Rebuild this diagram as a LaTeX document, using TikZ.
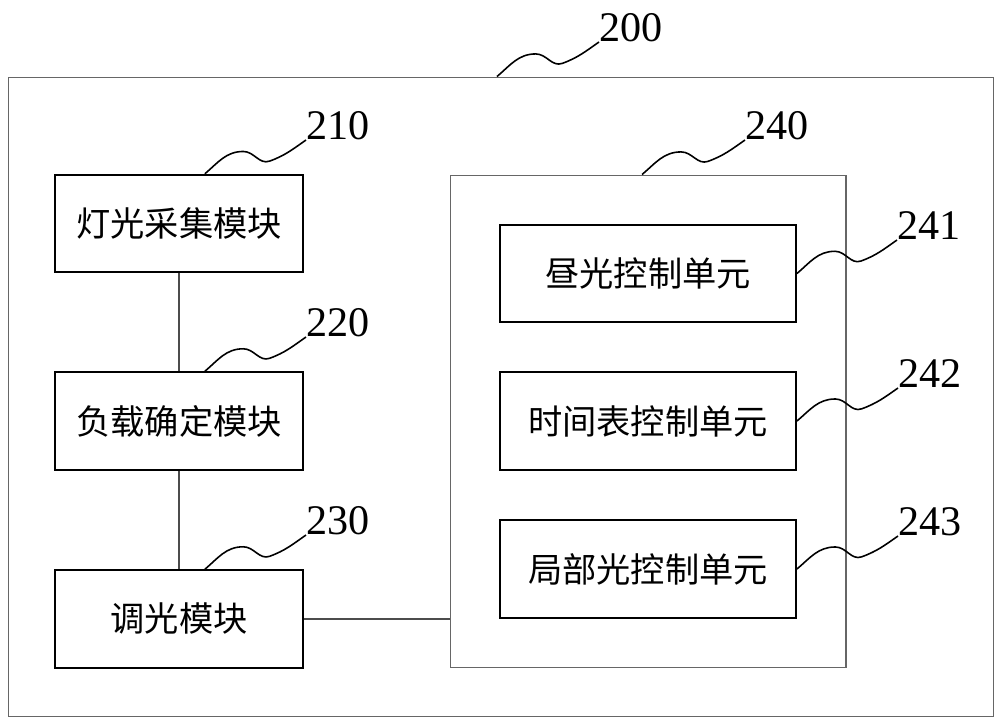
\documentclass[tikz,border=0pt]{standalone}
\usepackage{fontspec}
\setmainfont{Liberation Serif}
\newfontfamily\cjk{Noto Sans CJK SC}
\usetikzlibrary{positioning,calc}
% wavy leader from a part to its reference number
\newcommand{\wave}[2]{%
  \draw[Leader] (#1) to[out=40,in=180] ($(#1)!0.38!(#2)+(0pt,5.4pt)$)
    to[out=0,in=200] ($(#1)!0.64!(#2)-(0pt,5.1pt)$)
    to[out=20,in=215] (#2);
}

\begin{document}
\begin{tikzpicture}
  [
    x=0.02cm, y=-0.02cm,
    Module/.style={rectangle, draw=black, line width=1.1pt, minimum width=4.96cm, minimum height=1.95cm, font=\cjk\fontsize{19.5}{22}\selectfont},
    Unit/.style={Module, minimum width=5.92cm},
    Frame/.style={rectangle, draw=black!60, line width=0.6pt},
    Num/.style={anchor=south west, inner sep=0pt, font=\fontsize{24}{28}\selectfont},
    Link/.style={draw=black!70, line width=0.6pt},
    Leader/.style={draw=black, line width=0.9pt}
  ]
  \useasboundingbox (0,0) rectangle (1000,727);
  % Frames
  \node[Frame, minimum width=19.72cm, minimum height=12.8cm] (s200) at (501,397) {};
  \node[Frame, minimum width=7.92cm, minimum height=9.86cm] (s240) at (648,421.5) {};
  % Modules
  \node[Module] (b210) at (179,223.5) {灯光采集模块};
  \node[Module] (b220) at (179,421) {负载确定模块};
  \node[Module] (b230) at (179,619) {调光模块};
  % Units
  \node[Unit] (b241) at (648,273.5) {昼光控制单元};
  \node[Unit] (b242) at (648,421) {时间表控制单元};
  \node[Unit] (b243) at (648,569) {局部光控制单元};
  % Numbers
  \node[Num] (l200) at (599,42) {200};
  \node[Num] (l210) at (306,140) {210};
  \node[Num] (l220) at (306,337) {220};
  \node[Num] (l230) at (306,535) {230};
  \node[Num] (l240) at (745,140) {240};
  \node[Num] (l241) at (897,240) {241};
  \node[Num] (l242) at (898,388) {242};
  \node[Num] (l243) at (898,536) {243};
  % Lines
  \path[Link] (b210) -- (b220);
  \path[Link] (b220) -- (b230);
  \path[Link] (b230.east) -- (b230.east -| s240.west);
  % Leaders
  \coordinate (t200) at ([xshift=-2.3pt]s200.north);
  \coordinate (t210) at ([xshift=14.7pt]b210.north);
  \coordinate (t220) at ([xshift=14.7pt]b220.north);
  \coordinate (t230) at ([xshift=14.7pt]b230.north);
  \coordinate (t240) at ([xshift=-3.4pt]s240.north);
  \wave{t200}{l200.south west}
  \wave{t210}{l210.south west}
  \wave{t220}{l220.south west}
  \wave{t230}{l230.south west}
  \wave{t240}{l240.south west}
  \wave{b241.east}{l241.south west}
  \wave{b242.east}{l242.south west}
  \wave{b243.east}{l243.south west}
\end{tikzpicture}
\end{document}
